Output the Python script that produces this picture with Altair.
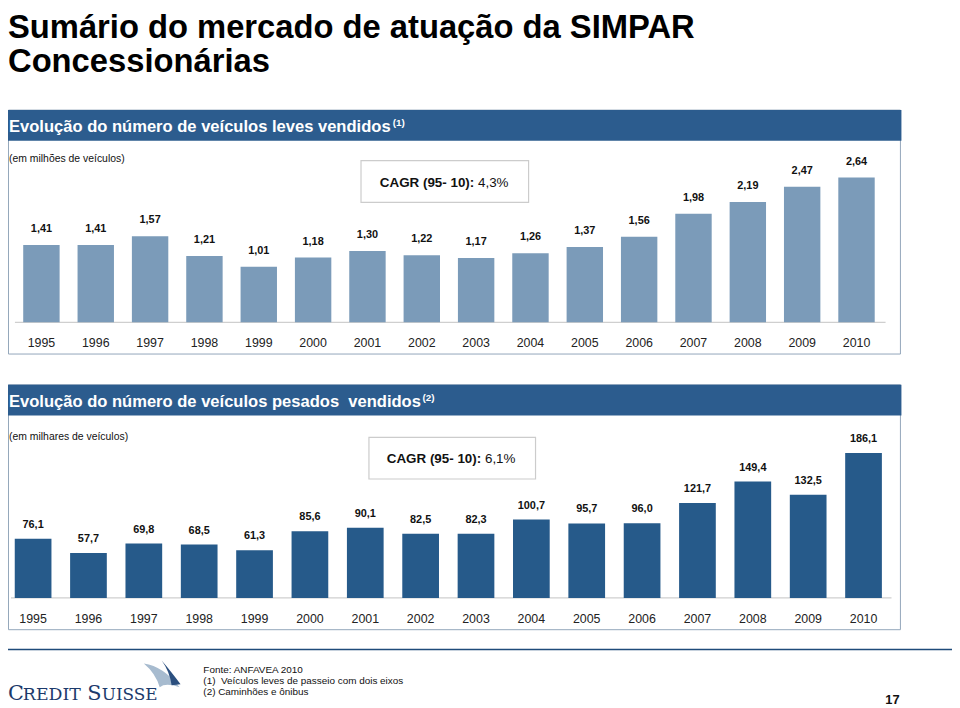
import altair as alt
import pandas as pd

# ---------------- data ----------------
years = [str(y) for y in range(1995, 2011)]
leves = [1.41, 1.41, 1.57, 1.21, 1.01, 1.18, 1.30, 1.22, 1.17, 1.26, 1.37, 1.56, 1.98, 2.19, 2.47, 2.64]
pesados = [76.1, 57.7, 69.8, 68.5, 61.3, 85.6, 90.1, 82.5, 82.3, 100.7, 95.7, 96.0, 121.7, 149.4, 132.5, 186.1]

title_lines = ["Sumário do mercado de atuação da SIMPAR", "Concessionárias"]
header_top = "Evolução do número de veículos leves vendidos"
header_bottom = "Evolução do número de veículos pesados\u00a0 vendidos"
sub_top = "(em milhões de veículos)"
sub_bottom = "(em milhares de veículos)"
cagr_label = "CAGR (95- 10):"
cagr_top = "4,3%"
cagr_bottom = "6,1%"
footnotes = ["Fonte: ANFAVEA 2010",
             "(1)\u00a0 Veículos leves de passeio com dois eixos",
             "(2) Caminhões e ônibus"]
page_number = "17"

df_top = pd.DataFrame({"year": years, "v": leves,
                       "label": [f"{v:.2f}".replace(".", ",") for v in leves]})
df_bot = pd.DataFrame({"year": years, "v": pesados,
                       "label": [f"{v:.1f}".replace(".", ",") for v in pesados]})
one = pd.DataFrame({"k": [0]})

FONT = "Liberation Sans"
HEADER = "#2C5C8E"
BORDER = "#93A6BA"
TOP_BAR = "#7B9BB9"
BOT_BAR = "#265A8A"
NAVY = "#1C3A6B"


def rect(x, x2, y, y2, **kw):
    return alt.Chart(one).mark_rect(**kw).encode(
        x=alt.value(x), x2=alt.value(x2), y=alt.value(y), y2=alt.value(y2))


def rule(x, x2, y, color, width=1.0):
    return alt.Chart(one).mark_rule(color=color, strokeWidth=width).encode(
        x=alt.value(x), x2=alt.value(x2), y=alt.value(y))


def text(t, x, y, size, bold=False, color="black", align="left", font=FONT):
    return alt.Chart(one).mark_text(
        text=t, align=align, baseline="alphabetic", fontSize=size,
        fontWeight="bold" if bold else "normal", color=color, font=font
    ).encode(x=alt.value(x), y=alt.value(y))


def bar_panel(df, xr, pin, ydom, yr, color, label_dy, year_y):
    xb = alt.X("year:N", axis=None,
               scale=alt.Scale(type="band", domain=years, range=xr,
                               paddingInner=pin, paddingOuter=pin / 2))
    xp = alt.X("year:N", axis=None,
               scale=alt.Scale(type="point", domain=years, range=xr, padding=0.5))
    ys = alt.Y("v:Q", axis=None,
               scale=alt.Scale(domain=ydom, range=yr, nice=False, zero=True))
    bars = alt.Chart(df).mark_bar(color=color).encode(x=xb, y=ys)
    labels = alt.Chart(df).mark_text(
        font=FONT, fontSize=11, fontWeight="bold", color="#111",
        baseline="alphabetic", dy=label_dy
    ).encode(x=xp, y=ys, text="label:N")
    yrs = alt.Chart(df).mark_text(
        font=FONT, fontSize=12.5, color="#222", baseline="alphabetic"
    ).encode(x=xp, y=alt.value(year_y), text="year:N")
    return [bars, labels, yrs]


layers = []

# title
layers.append(text(title_lines[0], 0, 27, 33, bold=True))
layers.append(text(title_lines[1], 0, 62, 33, bold=True))

# ---- top panel ----
layers.append(rect(0.5, 900, 100, 346, fillOpacity=0, stroke=BORDER, strokeWidth=1))
layers.append(rect(0, 901, 100, 131, color=HEADER))
layers.append(text(header_top, 1, 122.5, 16.7, bold=True, color="white"))
layers.append(text("(1)", 388, 116.5, 10, bold=True, color="white"))
layers.append(text(sub_top, 1, 152.5, 10.5, color="#111"))
layers.append(rect(356, 525, 151, 193, color="white", stroke="#CCCCCC", strokeWidth=1.2))
layers.append(text(cagr_label, 375, 178, 13.5, bold=True, color="#111"))
layers.append(text(cagr_top, 474, 178, 13.5, color="#111"))
layers.append(rule(7, 885, 314, "#CFCFCF", 1.2))
layers += bar_panel(df_top, [6.3, 883.1], 0.33, [0, 3], [314, 314 - 3 * 55.35],
                    TOP_BAR, -13, 338.5)

# ---- bottom panel ----
layers.append(rect(0.5, 900, 377, 624, fillOpacity=0, stroke=BORDER, strokeWidth=1))
layers.append(rect(0, 901, 377, 408, color=HEADER))
layers.append(text(header_bottom, 1, 399, 16.7, bold=True, color="white"))
layers.append(text("(2)", 418, 393, 10, bold=True, color="white"))
layers.append(text(sub_bottom, 1, 433, 10.5, color="#111"))
layers.append(rect(364, 532, 430, 472, color="white", stroke="#CCCCCC", strokeWidth=1.2))
layers.append(text(cagr_label, 382, 456, 13.5, bold=True, color="#111"))
layers.append(text(cagr_bottom, 481, 456, 13.5, color="#111"))
layers.append(rule(3, 891, 592, "#CFCFCF", 1.2))
layers += bar_panel(df_bot, [-2.6, 890.7], 0.337, [0, 200], [592, 592 - 200 * 0.786],
                    BOT_BAR, -11, 617.5)

# ---- footer ----
layers.append(rule(0, 952, 644, "#1E4A7A", 1.6))
layers.append(text("C", 0, 695, 21, color=NAVY, font="DejaVu Serif"))
layers.append(text("REDIT", 15, 695, 17.5, color=NAVY, font="DejaVu Serif"))
layers.append(text("S", 80, 695, 21, color=NAVY, font="DejaVu Serif"))
layers.append(text("UISSE", 94.5, 695, 17, color=NAVY, font="DejaVu Serif"))
light_sail = "M -0.9 -0.6 Q 0.1 -0.45 0.9 0.6 Q 0.2 0.35 -0.1 0.6 Q -0.3 -0.1 -0.9 -0.6 Z"
dark_sail = "M 0 -0.75 Q 0.55 -0.1 0.95 0.45 L 0.5 0.5 Q 0.4 -0.2 0 -0.75 Z"
layers.append(alt.Chart(one).mark_point(shape=light_sail, filled=True, size=1600,
                                        color="#A7BBCF", opacity=1)
              .encode(x=alt.value(155), y=alt.value(670)))
layers.append(alt.Chart(one).mark_point(shape=dark_sail, filled=True, size=1600,
                                        color="#2B4F7F", opacity=1)
              .encode(x=alt.value(155), y=alt.value(670)))
for i, line in enumerate(footnotes):
    layers.append(text(line, 197, 668 + i * 10.8, 10, color="#111"))
layers.append(text(page_number, 892, 699, 13, bold=True, color="#111", align="center"))

chart = alt.layer(*layers).resolve_scale(
    x="independent", y="independent"
).properties(
    width=952, height=700, padding=0,
    autosize=alt.AutoSizeParams(type="none")
).configure_view(stroke=None)

chart.save("out.html", embed_options={"renderer": "svg", "actions": False})
